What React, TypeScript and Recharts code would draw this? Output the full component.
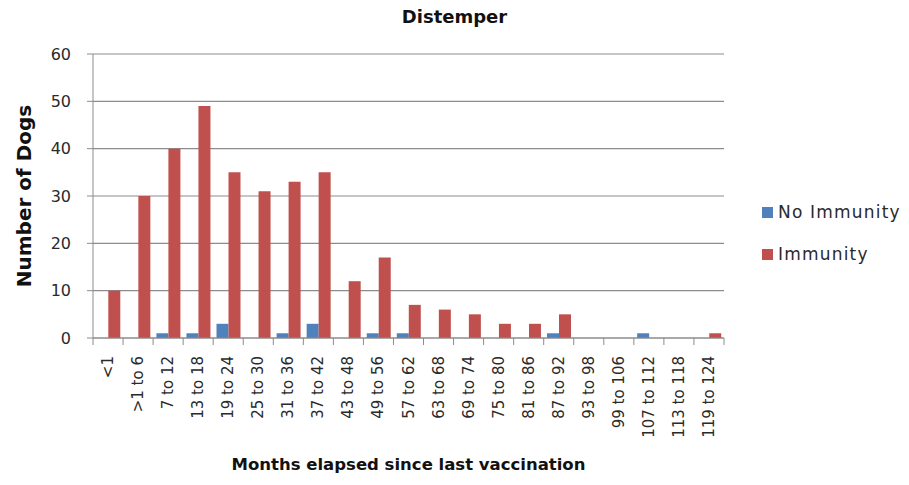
import React from "react";
import {
  BarChart,
  Bar,
  XAxis,
  YAxis,
  CartesianGrid,
} from "recharts";

const categories = [
  "<1", ">1 to 6", "7 to 12", "13 to 18", "19 to 24", "25 to 30", "31 to 36",
  "37 to 42", "43 to 48", "49 to 56", "57 to 62", "63 to 68", "69 to 74",
  "75 to 80", "81 to 86", "87 to 92", "93 to 98", "99 to 106", "107 to 112",
  "113 to 118", "119 to 124",
];
const noImmunity = [0, 0, 1, 1, 3, 0, 1, 3, 0, 1, 1, 0, 0, 0, 0, 1, 0, 0, 1, 0, 0];
const immunity = [10, 30, 40, 49, 35, 31, 33, 35, 12, 17, 7, 6, 5, 3, 3, 5, 0, 0, 0, 0, 1];
const yTicks = [0, 10, 20, 30, 40, 50, 60];

const data = categories.map((name, i) => ({
  name,
  noImmunity: noImmunity[i],
  immunity: immunity[i],
}));

const W = 909;
const H = 485;
const margin = { top: 54, right: 185, bottom: 0, left: 0 };
const xAxisHeight = 147;
const yAxisWidth = 93;
const plotWidth = W - margin.left - margin.right - yAxisWidth;
const band = plotWidth / categories.length;

const FONT = "'DejaVu Sans', sans-serif";
const BLUE = "#4F81BD";
const RED = "#C0504D";
const GRID = "#8c8c8c";
const TEXT = "#2a2a2a";

const series = [
  { label: "No Immunity", color: BLUE },
  { label: "Immunity", color: RED },
];

const XTick = (props: any) => {
  const { x, y, payload, index } = props;
  const tx = x + 5;
  const ty = y + 10;
  return (
    <g>
      <line x1={x + band / 2} y1={y - 8} x2={x + band / 2} y2={y - 1} stroke={GRID} />
      {index === 0 && (
        <line x1={x - band / 2} y1={y - 8} x2={x - band / 2} y2={y - 1} stroke={GRID} />
      )}
      <text
        x={tx}
        y={ty}
        transform={`rotate(-90, ${tx}, ${ty})`}
        textAnchor="end"
        fontSize={15}
        fill={TEXT}
        fontFamily={FONT}
      >
        {payload.value}
      </text>
    </g>
  );
};

export default function App() {
  return (
    <div style={{ position: "absolute", left: 0, top: 0, width: W, height: H, background: "#fff" }}>
      <div
        style={{
          position: "absolute",
          top: 6,
          left: 0,
          width: W,
          textAlign: "center",
          fontFamily: FONT,
          fontWeight: "bold",
          fontSize: 18,
          color: "#111",
        }}
      >
        Distemper
      </div>
      <div
        style={{
          position: "absolute",
          left: 24,
          top: 196,
          transform: "translate(-50%, -50%) rotate(-90deg)",
          whiteSpace: "nowrap",
          fontFamily: FONT,
          fontWeight: "bold",
          fontSize: 20,
          color: "#111",
        }}
      >
        Number of Dogs
      </div>
      <div
        style={{
          position: "absolute",
          left: 93,
          width: plotWidth,
          top: 455,
          textAlign: "center",
          fontFamily: FONT,
          fontWeight: "bold",
          fontSize: 16.5,
          color: "#111",
        }}
      >
        Months elapsed since last vaccination
      </div>
      <div
        style={{
          position: "absolute",
          left: 762,
          top: 191,
          fontFamily: FONT,
          fontSize: 17,
          letterSpacing: 1.2,
          color: TEXT,
        }}
      >
        {series.map((it) => (
          <div key={it.label} style={{ display: "flex", alignItems: "center", height: 42 }}>
            <span style={{ width: 11, height: 11, background: it.color, marginRight: 5 }} />
            <span>{it.label}</span>
          </div>
        ))}
      </div>
      <BarChart
        width={W}
        height={H}
        data={data}
        margin={margin}
        barGap={0}
        barCategoryGap="11%"
      >
        <CartesianGrid vertical={false} stroke={GRID} strokeWidth={1.2} />
        <XAxis
          dataKey="name"
          interval={0}
          tick={<XTick />}
          tickLine={false}
          axisLine={{ stroke: GRID }}
          height={xAxisHeight}
        />
        <YAxis
          width={yAxisWidth}
          domain={[0, 60]}
          ticks={yTicks}
          axisLine={{ stroke: GRID }}
          tickLine={{ stroke: GRID }}
          tickSize={6}
          tickMargin={16}
          tick={{ fontSize: 16, fill: TEXT, fontFamily: FONT }}
        />
        <Bar dataKey="noImmunity" name="No Immunity" fill={BLUE} isAnimationActive={false} />
        <Bar dataKey="immunity" name="Immunity" fill={RED} isAnimationActive={false} />
      </BarChart>
    </div>
  );
}
